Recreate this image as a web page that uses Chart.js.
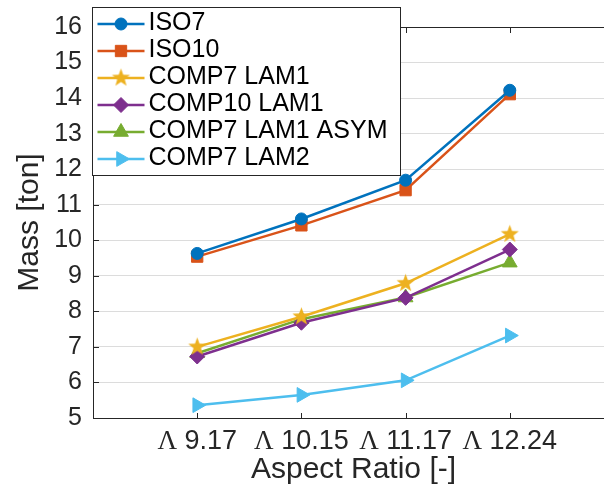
<!DOCTYPE html>
<html>
<head>
<meta charset="utf-8">
<script src="https://cdn.jsdelivr.net/npm/chart.js@4.4.1/dist/chart.umd.min.js"></script>
<style>
  html, body { margin: 0; padding: 0; background: #fff; overflow: hidden; width: 604px; height: 488px; }
  canvas { display: block; }
</style>
</head>
<body>
<canvas id="mass-chart" width="614" height="488"></canvas>
<script>
// aspect ratio categories (drawn as "Λ 9.17" etc.)
const categories = ['9.17', '10.15', '11.17', '12.24']
const seriesNames = ['ISO7', 'ISO10', 'COMP7 LAM1', 'COMP10 LAM1', 'COMP7 LAM1 ASYM', 'COMP7 LAM2']

// mass in ton
const iso7 = [9.63, 10.6, 11.69, 14.22]
const iso10 = [9.54, 10.42, 11.41, 14.11]
const comp7Lam1 = [7.0, 7.85, 8.79, 10.17]
const comp10Lam1 = [6.73, 7.68, 8.38, 9.74]
const comp7Lam1Asym = [6.82, 7.78, 8.39, 9.37]
const comp7Lam2 = [5.36, 5.65, 6.06, 7.32]

const yTicks = [5, 6, 7, 8, 9, 10, 11, 12, 13, 14, 15, 16]

const AXIS = '#262626'
const SANS = '"Liberation Sans", Arial, Helvetica, sans-serif'
const SERIF = '"Liberation Serif", "Times New Roman", serif'

// filled five-point star (Chart.js 'star' is only stroked)
function makeStar(color, outer, inner) {
  const size = Math.ceil(outer * 2) + 2
  const c = document.createElement('canvas')
  c.width = size
  c.height = size
  const g = c.getContext('2d')
  g.fillStyle = color
  g.beginPath()
  for (let k = 0; k < 10; k++) {
    const r = k % 2 === 0 ? outer : inner
    const a = -Math.PI / 2 + k * Math.PI / 5
    const px = size / 2 + r * Math.cos(a)
    const py = size / 2 + r * Math.sin(a)
    if (k === 0) g.moveTo(px, py)
    else g.lineTo(px, py)
  }
  g.closePath()
  g.fill()
  return c
}

const styles = [
  { color: '#0072BD', pointStyle: 'circle', radius: 6, rotation: 0 },
  { color: '#D95319', pointStyle: 'rect', radius: 8, rotation: 0 },
  { color: '#EDB120', pointStyle: makeStar('#EDB120', 9.5, 3.9), radius: 9, rotation: 0 },
  { color: '#7E2F8E', pointStyle: 'rectRot', radius: 7.5, rotation: 0 },
  { color: '#77AC30', pointStyle: 'triangle', radius: 8.5, rotation: 0 },
  { color: '#4DBEEE', pointStyle: 'triangle', radius: 8.5, rotation: 90 },
]

const seriesValues = [iso7, iso10, comp7Lam1, comp10Lam1, comp7Lam1Asym, comp7Lam2]

const datasets = seriesValues.map((vals, i) => ({
  label: seriesNames[i],
  data: vals.map((v, j) => ({ x: j + 1, y: v })),
  borderColor: styles[i].color,
  backgroundColor: styles[i].color,
  borderWidth: 2.5,
  pointStyle: styles[i].pointStyle,
  pointRotation: styles[i].rotation,
  pointRadius: styles[i].radius,
  pointHoverRadius: styles[i].radius,
  pointBorderWidth: 1,
  pointBorderColor: styles[i].color,
  pointBackgroundColor: styles[i].color,
  tension: 0,
  fill: false,
}))

const axesDecor = {
  id: 'axesDecor',
  beforeDatasetsDraw(chart) {
    const { ctx, chartArea: a, scales: { x, y } } = chart
    ctx.save()
    ctx.strokeStyle = AXIS
    ctx.lineWidth = 1
    ctx.beginPath()
    const top = Math.round(a.top) + 0.5
    ctx.moveTo(a.left, top)
    ctx.lineTo(a.right, top)
    categories.forEach((c, i) => {
      const px = Math.round(x.getPixelForValue(i + 1)) + 0.5
      ctx.moveTo(px, a.bottom)
      ctx.lineTo(px, a.bottom - 5)
      ctx.moveTo(px, a.top)
      ctx.lineTo(px, a.top + 6)
    })
    yTicks.forEach(v => {
      const py = Math.round(y.getPixelForValue(v)) + 0.5
      ctx.moveTo(a.left, py)
      ctx.lineTo(a.left + 6, py)
    })
    ctx.stroke()
    ctx.restore()
  },
  afterDraw(chart) {
    const { ctx, chartArea: a, scales: { x } } = chart
    ctx.save()

    // x tick labels: serif Lambda + sans number
    ctx.fillStyle = AXIS
    ctx.textBaseline = 'alphabetic'
    ctx.textAlign = 'left'
    categories.forEach((c, i) => {
      const px = x.getPixelForValue(i + 1)
      ctx.font = '27px ' + SERIF
      const wl = ctx.measureText('Λ').width
      ctx.font = '27px ' + SANS
      const wn = ctx.measureText(' ' + c).width
      const x0 = px - (wl + wn) / 2
      ctx.font = '27px ' + SERIF
      ctx.fillText('Λ', x0, a.bottom + 31)
      ctx.font = '27px ' + SANS
      ctx.fillText(' ' + c, x0 + wl, a.bottom + 31)
    })

    // legend box
    const bx = Math.round(a.left) - 0.5
    const by = 7.5
    ctx.fillStyle = '#ffffff'
    ctx.fillRect(bx, by, 308, 168)
    ctx.strokeStyle = AXIS
    ctx.lineWidth = 1
    ctx.strokeRect(bx, by, 308, 168)

    chart.data.datasets.forEach((ds, i) => {
      const ly = 24 + i * 27
      ctx.strokeStyle = ds.borderColor
      ctx.lineWidth = 2.5
      ctx.beginPath()
      ctx.moveTo(bx + 5, ly)
      ctx.lineTo(bx + 52, ly)
      ctx.stroke()
      ctx.fillStyle = ds.pointBackgroundColor
      ctx.strokeStyle = ds.pointBorderColor
      ctx.lineWidth = ds.pointBorderWidth
      Chart.helpers.drawPoint(ctx, {
        pointStyle: ds.pointStyle,
        rotation: ds.pointRotation,
        radius: ds.pointRadius,
        borderWidth: ds.pointBorderWidth,
      }, bx + 28.5, ly)
      ctx.fillStyle = '#000000'
      ctx.font = '25px ' + SANS
      ctx.textBaseline = 'alphabetic'
      ctx.fillText(ds.label, bx + 56, ly + 5.5)
    })
    ctx.restore()
  },
}

new Chart(document.getElementById('mass-chart'), {
  type: 'line',
  data: { datasets },
  plugins: [axesDecor],
  options: {
    responsive: false,
    animation: false,
    layout: { autoPadding: false, padding: { top: 27, right: 0, bottom: 0, left: 0 } },
    plugins: {
      legend: { display: false },
      tooltip: { enabled: false },
    },
    scales: {
      x: {
        type: 'linear',
        min: 0,
        max: 5,
        afterFit: s => { s.height = 70 },
        ticks: { display: false },
        grid: { display: false },
        border: { color: AXIS, width: 1 },
        title: {
          display: true,
          text: 'Aspect Ratio [-]',
          color: AXIS,
          font: { family: SANS, size: 30 },
          padding: { top: 0, bottom: 0 },
        },
      },
      y: {
        min: 5,
        max: 16,
        afterFit: s => { s.width = 93 },
        afterBuildTicks: s => { s.ticks = yTicks.map(v => ({ value: v })) },
        ticks: {
          color: AXIS,
          font: { family: SANS, size: 25 },
          padding: 11,
        },
        grid: { color: '#dcdcdc', lineWidth: 1, drawTicks: false },
        border: { color: AXIS, width: 1 },
        title: {
          display: true,
          text: 'Mass [ton]',
          color: AXIS,
          font: { family: SANS, size: 30 },
          padding: { top: 12, bottom: 0 },
        },
      },
    },
  },
})
</script>
</body>
</html>
